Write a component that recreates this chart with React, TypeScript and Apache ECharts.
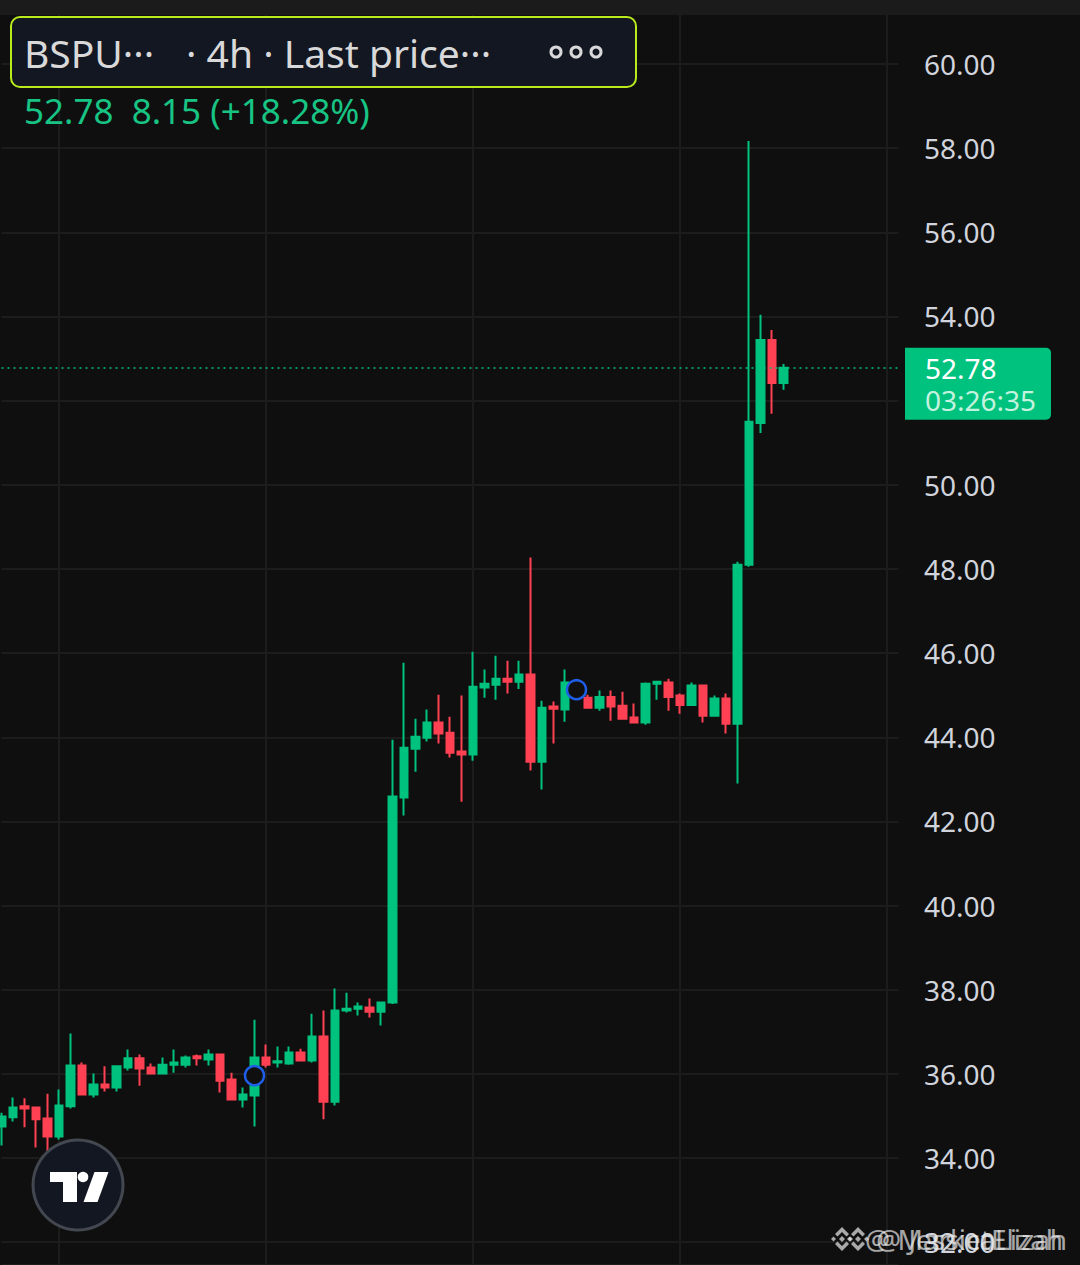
import React, { useEffect, useRef } from "react";
import * as echarts from "echarts";

// ---- data (4h candles, oldest first) ----
const opens = [
  34.75, 34.97, 35.23, 35.2, 34.94, 34.51, 35.23, 36.2, 35.51, 35.75,
  35.68, 36.15, 36.37, 36.15, 36.01, 36.22, 36.22, 36.42, 36.34, 36.46,
  35.87, 35.39, 35.49, 36.39, 36.27, 36.25, 36.51, 36.32, 36.89, 35.34,
  37.51, 37.55, 37.58, 37.48, 37.7, 42.57, 43.73, 43.99, 44.35, 44.11,
  43.66, 43.59, 45.18, 45.25, 45.39, 45.32, 45.49, 43.42, 44.73, 44.66,
  45.28, 44.94, 44.7, 44.96, 44.75, 44.47, 44.35, 45.27, 45.3, 44.99,
  44.77, 45.23, 44.51, 44.92, 44.32, 48.1, 51.47, 53.44, 52.42,
];
const closes = [
  34.99, 35.2, 35.18, 34.92, 34.51, 35.25, 36.2, 35.51, 35.75, 35.68,
  36.18, 36.37, 36.13, 36.01, 36.22, 36.27, 36.39, 36.37, 36.46, 35.84,
  35.39, 35.51, 36.39, 36.22, 36.3, 36.51, 36.32, 36.89, 35.34, 37.51,
  37.55, 37.6, 37.48, 37.7, 42.59, 43.75, 44.01, 44.35, 44.09, 43.63,
  43.59, 45.2, 45.27, 45.39, 45.32, 45.49, 43.42, 44.7, 44.68, 45.3,
  44.96, 44.7, 44.96, 44.73, 44.44, 44.35, 45.27, 45.32, 44.96, 44.77,
  45.23, 44.51, 44.92, 44.32, 48.1, 51.5, 53.44, 52.42, 52.78,
];
const lows = [
  34.3, 34.87, 34.73, 34.25, 33.92, 34.44, 35.18, 35.49, 35.44, 35.58,
  35.58, 36.08, 35.72, 36.0, 36.0, 36.03, 36.15, 36.2, 36.2, 35.56,
  35.37, 35.2, 34.75, 36.15, 36.15, 36.22, 36.3, 36.27, 34.92, 35.25,
  37.46, 37.39, 37.34, 37.15, 37.66, 42.14, 43.18, 43.9, 43.85, 43.52,
  42.47, 43.44, 44.94, 44.89, 45.04, 45.15, 43.21, 42.76, 43.85, 44.37,
  44.92, 44.68, 44.63, 44.39, 44.43, 44.34, 44.3, 44.89, 44.63, 44.56,
  44.75, 44.35, 44.5, 44.09, 42.9, 48.05, 51.23, 51.69, 52.26,
];
const highs = [
  35.08, 35.44, 35.42, 35.22, 35.53, 35.63, 36.96, 36.27, 36.01, 36.18,
  36.2, 36.58, 36.46, 36.25, 36.39, 36.58, 36.44, 36.46, 36.58, 36.47,
  36.03, 35.68, 37.29, 36.7, 36.65, 36.65, 36.6, 37.43, 37.51, 38.03,
  37.93, 37.7, 37.79, 37.71, 43.94, 45.77, 44.44, 44.66, 45.01, 44.49,
  44.99, 46.03, 45.61, 45.94, 45.82, 45.82, 48.27, 44.87, 44.85, 45.61,
  45.35, 45.01, 45.11, 45.11, 45.08, 44.8, 45.3, 45.34, 45.39, 45.04,
  45.3, 45.24, 44.99, 45.04, 48.17, 58.17, 54.04, 53.68, 52.87,
];
const slotCount = 79; // visible candle slots incl. empty space on the right
const categories = Array.from({ length: slotCount }, (_, i) => String(i));
const eventIdx = [22, 50];
const eventPrice = [35.96, 45.13];
const viewMin = 31.459; // price at the bottom edge of the pane
const viewMax = 61.521; // price at the top edge of the pane
const tickStep = 2;
const lastPrice = 52.78;
const changeAbs = "8.15";
const changePct = "+18.28%";
const countdown = "03:26:35";
const symbolText = "BSPU···";
const intervalText = "· 4h · Last price···";

const UP = "#00c27f";
const DOWN = "#ff4153";
const GRID = "#1c1c1c";
const FONT = "Noto Sans";

function binanceLogo(cx: number, cy: number, color: string) {
  const d = (x: number, y: number, h: number) => ({
    type: "polygon",
    z: 100,
    shape: { points: [[x, y - h], [x + h, y], [x, y + h], [x - h, y]] },
    style: { fill: color },
  });
  const chevron = (sign: number) => ({
    type: "polygon",
    z: 100,
    shape: {
      points: [
        [cx, cy - 12 * sign],
        [cx + 7, cy - 5 * sign],
        [cx + 4.5, cy - 2.5 * sign],
        [cx, cy - 7 * sign],
        [cx - 4.5, cy - 2.5 * sign],
        [cx - 7, cy - 5 * sign],
      ],
    },
    style: { fill: color },
  });
  return [d(cx, cy, 3), d(cx - 8.5, cy, 2.5), d(cx + 8.5, cy, 2.5), chevron(1), chevron(-1)];
}

export default function App() {
  const ref = useRef<HTMLDivElement>(null);
  useEffect(() => {
    document.body.style.margin = "0";
    document.body.style.background = "#0f0f0f";
    if (!ref.current) return;
    const chart = echarts.init(ref.current, null, { renderer: "svg" });
    const candles = opens.map((o, i) => [o, closes[i], lows[i], highs[i]]);
    const isTick = (v: number) => Math.abs(v / tickStep - Math.round(v / tickStep)) < 1e-6;
    chart.setOption({
      animation: false,
      backgroundColor: "#0f0f0f",
      grid: { left: 1.5, right: 181.5, top: 0, bottom: 0, containLabel: false },
      xAxis: {
        type: "category",
        data: categories,
        boundaryGap: false,
        axisLine: { show: false },
        axisTick: { show: false },
        axisLabel: { show: false },
        splitLine: {
          show: true,
          interval: (i: number) => (i - 5) % 18 === 0,
          lineStyle: { color: GRID, width: 2 },
        },
      },
      yAxis: {
        type: "value",
        position: "right",
        min: viewMin,
        max: viewMax,
        splitNumber: 15,
        axisLine: { show: false },
        axisTick: { show: false },
        axisLabel: {
          margin: 25.5,
          fontSize: 28,
          fontFamily: FONT,
          color: "#d1d4dc",
          showMinLabel: false,
          showMaxLabel: false,
          formatter: (v: number) =>
            isTick(v) && !(v > lastPrice - 1.25 && v < lastPrice + 0.5) ? v.toFixed(2) : "",
        },
        splitLine: { show: true, lineStyle: { color: GRID, width: 2 } },
      },
      series: [
        {
          type: "candlestick",
          data: candles,
          barWidth: 8,
          clip: true,
          z: 2,
          itemStyle: {
            color: UP,
            color0: DOWN,
            borderColor: UP,
            borderColor0: DOWN,
            borderWidth: 2,
          },
          markLine: {
            silent: true,
            symbol: ["none", "none"],
            label: { show: false },
            lineStyle: { color: UP, type: [2, 4], width: 1.5 },
            data: [{ yAxis: lastPrice }],
          },
        },
        {
          type: "scatter",
          data: eventIdx.map((x, i) => [x, eventPrice[i]]),
          symbol: "circle",
          symbolSize: 19,
          z: 10,
          itemStyle: { color: "#0f0f0f", opacity: 1, borderColor: "#1f5ee8", borderWidth: 2.5 },
        },
      ],
    });

    const py = chart.convertToPixel({ yAxisIndex: 0 }, lastPrice) as number;
    const wm = "rgba(235,235,235,0.7)";
    chart.setOption({
      graphic: [
        { type: "rect", z: 100, shape: { x: 0, y: 0, width: 1080, height: 15 }, style: { fill: "#1b1b1b" } },
        {
          type: "rect",
          z: 100,
          shape: { x: 11, y: 17, width: 625, height: 70, r: 9 },
          style: { fill: "#131722", stroke: "#b9ea1c", lineWidth: 2 },
        },
        {
          type: "text",
          z: 101,
          x: 24,
          y: 52,
          style: { text: symbolText, fill: "#d9d9d9", font: `39px "${FONT}"`, verticalAlign: "middle" },
        },
        {
          type: "text",
          z: 101,
          x: 186,
          y: 52,
          style: { text: intervalText, fill: "#d9d9d9", font: `39px "${FONT}"`, verticalAlign: "middle" },
        },
        ...[556, 576, 596].map((cx) => ({
          type: "circle",
          z: 101,
          shape: { cx, cy: 52, r: 5 },
          style: { fill: "none", stroke: "#d9d9d9", lineWidth: 3 },
        })),
        {
          type: "text",
          z: 101,
          x: 24,
          y: 110,
          style: {
            text: `${lastPrice.toFixed(2)}  ${changeAbs} (${changePct})`,
            fill: "#17c484",
            font: `35px "${FONT}"`,
            verticalAlign: "middle",
          },
        },
        // last price tag
        {
          type: "rect",
          z: 100,
          shape: { x: 905, y: py - 20, width: 146, height: 72, r: [0, 5, 5, 0] },
          style: { fill: UP },
        },
        {
          type: "text",
          z: 101,
          x: 925,
          y: py,
          style: {
            text: lastPrice.toFixed(2),
            fill: "#ffffff",
            font: `28px "${FONT}"`,
            lineHeight: 28,
            verticalAlign: "middle",
          },
        },
        {
          type: "text",
          z: 101,
          x: 925,
          y: py + 32,
          style: {
            text: countdown,
            fill: "#c4f2de",
            font: `28px "${FONT}"`,
            lineHeight: 28,
            verticalAlign: "middle",
          },
        },
        // TradingView badge
        {
          type: "circle",
          z: 100,
          shape: { cx: 78, cy: 1185, r: 45 },
          style: { fill: "#131722", stroke: "#434850", lineWidth: 3 },
        },
        {
          type: "polygon",
          z: 101,
          shape: { points: [[50, 1172], [77, 1172], [77, 1202], [63, 1202], [63, 1182], [50, 1182]] },
          style: { fill: "#ffffff" },
        },
        { type: "circle", z: 101, shape: { cx: 83, cy: 1177, r: 5.3 }, style: { fill: "#ffffff" } },
        {
          type: "polygon",
          z: 101,
          shape: { points: [[94.5, 1172], [108.5, 1172], [97.5, 1202], [83.5, 1202]] },
          style: { fill: "#ffffff" },
        },
        // watermark
        ...binanceLogo(842, 1239, wm),
        ...binanceLogo(858, 1239, wm),
        {
          type: "text",
          z: 101,
          x: 865,
          y: 1239,
          style: { text: "@ MarketElizah", fill: wm, font: `28px "${FONT}"`, verticalAlign: "middle" },
        },
        {
          type: "text",
          z: 101,
          x: 876,
          y: 1239,
          style: { text: "@ JessicaLizah", fill: wm, font: `28px "${FONT}"`, verticalAlign: "middle" },
        },
      ],
    });
    return () => chart.dispose();
  }, []);
  return <div ref={ref} style={{ width: 1080, height: 1265 }} />;
}
